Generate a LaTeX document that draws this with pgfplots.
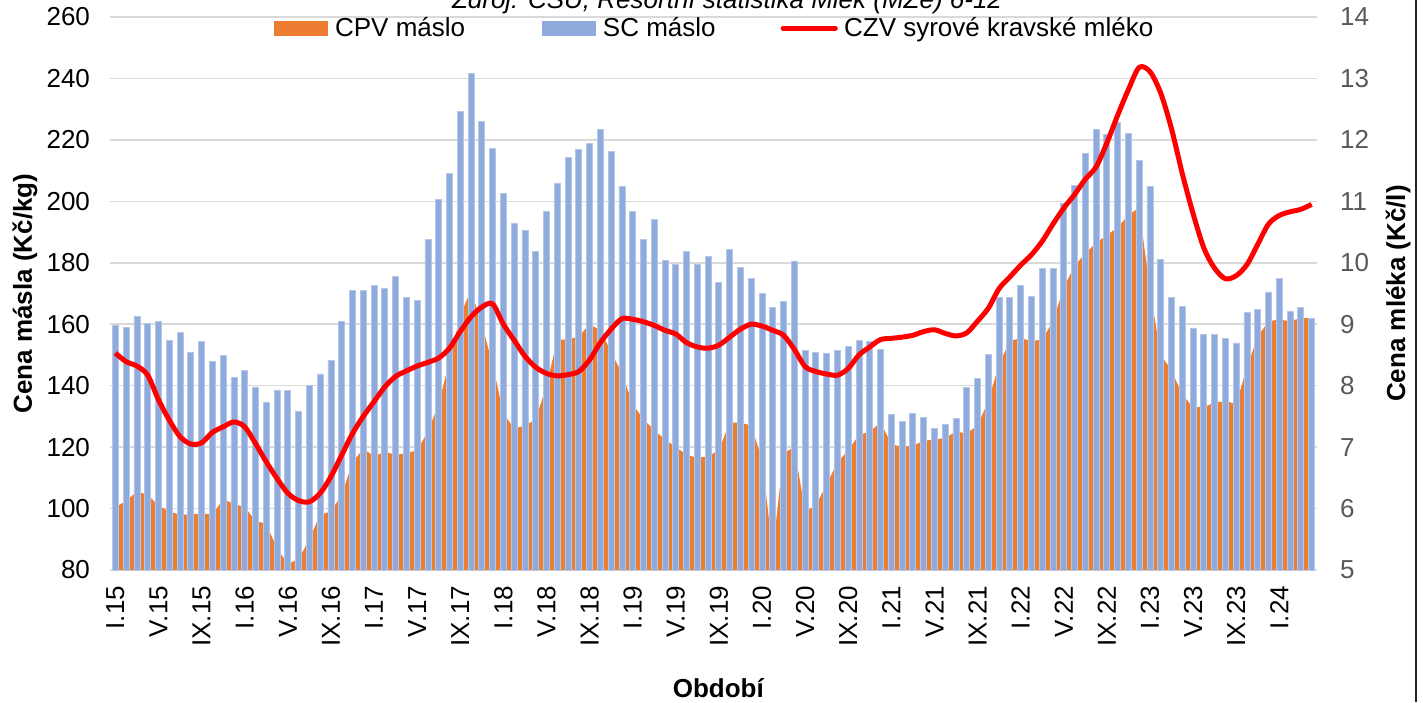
\documentclass[border=0pt]{standalone}
\usepackage{fontspec}
\setmainfont{Liberation Sans}
\usepackage{pgfplots}
\usepackage{pgfplotstable}
\pgfplotsset{compat=1.18}

\definecolor{cpv}{HTML}{ED7D31}
\definecolor{scfill}{HTML}{8FAADC}
\definecolor{scedge}{HTML}{B4C7E7}
\definecolor{gridc}{HTML}{D9D9D9}
\definecolor{rtick}{HTML}{595959}

% i = month index from I.15; sc = SC máslo, cpv = CPV máslo (Kč/kg); czv = CZV mléko (Kč/l)
\pgfplotstableread{
i sc cpv czv
0 159.7 100.5 8.53
1 158.9 102.5 8.39
2 162.6 105.5 8.32
3 160.3 104.5 8.17
4 160.8 101 7.77
5 154.6 99 7.44
6 157.2 98 7.17
7 150.8 98 7.05
8 154.5 98.5 7.07
9 148.0 98 7.24
10 149.7 103 7.33
11 142.6 101.5 7.41
12 145.0 100.5 7.33
13 139.6 96 7.06
14 134.7 95 6.76
15 138.6 87 6.49
16 138.4 82 6.25
17 131.6 83.5 6.13
18 140.0 90 6.11
19 143.8 98 6.25
20 148.2 99 6.52
21 160.9 104.5 6.87
22 171.0 115 7.22
23 171.0 119.5 7.50
24 172.5 117 7.74
25 171.6 118.5 7.98
26 175.6 117.5 8.15
27 168.7 118 8.24
28 167.6 119 8.32
29 187.5 125 8.38
30 200.6 134 8.45
31 209.1 148 8.61
32 229.4 163 8.88
33 241.7 171 9.12
34 226.0 160 9.28
35 217.3 147 9.33
36 202.7 131 9.00
37 192.7 126 8.74
38 190.6 127 8.48
39 183.8 129 8.30
40 196.8 140 8.20
41 206.0 155 8.16
42 214.3 155 8.18
43 216.8 156 8.23
44 218.7 160 8.42
45 223.3 158 8.70
46 216.2 151 8.92
47 204.8 144 9.09
48 196.8 134 9.08
49 187.6 129 9.04
50 194.0 125.5 8.98
51 180.8 122.5 8.90
52 179.6 120 8.84
53 183.8 117.5 8.70
54 179.6 116.5 8.63
55 182.1 117 8.61
56 173.6 119 8.66
57 184.4 128 8.79
58 178.6 128 8.92
59 174.9 127 9.00
60 170.1 116 8.97
61 165.5 86 8.90
62 167.5 118 8.82
63 180.6 120 8.59
64 151.4 99 8.31
65 150.8 101 8.23
66 150.6 108 8.19
67 151.4 115 8.17
68 152.9 119 8.28
69 154.7 124 8.50
70 154.5 125 8.63
71 151.9 128 8.75
72 130.6 121 8.77
73 128.4 120 8.79
74 131.0 120.5 8.82
75 129.7 122 8.88
76 126.0 122.5 8.91
77 127.3 123 8.85
78 129.3 125 8.81
79 139.5 124.5 8.86
80 142.3 127 9.05
81 150.1 135 9.26
82 168.8 147 9.58
83 168.6 154.5 9.77
84 172.5 155.5 9.96
85 169.0 154.5 10.13
86 178.3 155 10.35
87 178.3 161 10.63
88 199.4 172 10.89
89 205.2 179 11.11
90 215.7 183 11.36
91 223.5 186.5 11.56
92 221.8 189 11.95
93 225.8 191.5 12.40
94 222.1 195.5 12.82
95 213.3 198 13.18
96 204.7 171 13.11
97 181.0 150 12.76
98 168.6 145 12.18
99 165.9 137 11.45
100 158.8 133 10.80
101 156.6 133 10.24
102 156.6 134.5 9.91
103 155.3 135 9.74
104 153.9 134 9.79
105 163.8 146 9.97
106 164.8 156 10.30
107 170.5 161 10.63
108 175.0 161.5 10.77
109 164.2 161 10.83
110 165.6 162 10.87
111 162.0 162 10.95
}\milk

\newcommand{\chfont}{\fontsize{13}{15.6}\selectfont}

\begin{document}
\begin{tikzpicture}[font=\chfont]
\path[use as bounding box] (-55pt,-66pt) rectangle (656.5pt,285pt);

\begin{axis}[
    scale only axis, width=603.5pt, height=276.5pt,
    xmin=-0.5, xmax=111.5, ymin=80, ymax=260,
    ytick distance=20,
    xtick={0,4,...,108},
    xticklabels={I.15,V.15,IX.15,I.16,V.16,IX.16,I.17,V.17,IX.17,I.18,V.18,IX.18,I.19,V.19,IX.19,I.20,V.20,IX.20,I.21,V.21,IX.21,I.22,V.22,IX.22,I.23,V.23,IX.23,I.24},
    xticklabel style={rotate=90, anchor=east},
    ymajorgrids, grid style={gridc, line width=0.75pt},
    axis x line*=bottom, axis y line*=left,
    x axis line style={gridc, line width=0.75pt},
    y axis line style={draw=none},
    major tick length=0pt, tick style={draw=none},
    xticklabel shift=4.5pt, yticklabel shift=6.5pt,
    /pgf/number format/assume math mode=true,
    ticklabel style={font=\chfont},
    xlabel={Období}, ylabel={Cena másla (Kč/kg)},
    every axis x label/.style={at={(axis description cs:0.504,-0.2134)}, anchor=center, font=\bfseries\chfont},
    every axis y label/.style={at={(axis description cs:-0.0704,0.5)}, rotate=90, anchor=center, font=\bfseries\chfont},
]
\addplot[fill=cpv, draw=none] table[x=i, y=cpv] {\milk} \closedcycle;
\addplot[ybar, bar width=3pt, fill=scfill, draw=scedge, line width=0.4pt] table[x=i, y=sc] {\milk};
\end{axis}

\begin{axis}[
    scale only axis, width=603.5pt, height=276.5pt,
    xmin=-0.5, xmax=111.5, ymin=5, ymax=14,
    ytick distance=1,
    axis x line=none, axis y line*=right,
    y axis line style={draw=none},
    major tick length=0pt, tick style={draw=none},
    yticklabel shift=8pt,
    /pgf/number format/assume math mode=true,
    yticklabel style={font=\chfont, text=rtick},
    ylabel={Cena mléka (Kč/l)},
    every axis y label/.style={at={(axis description cs:1.0671,0.5)}, rotate=90, anchor=center, font=\bfseries\chfont},
    legend columns=3,
    legend style={draw=none, fill=none, at={(axis description cs:0.5015,0.980)}, anchor=center,
        font=\chfont, inner sep=0pt, nodes={inner sep=1.5pt},
        /tikz/column 2/.style={column sep=37pt},
        /tikz/column 4/.style={column sep=31pt}},
]
\addlegendimage{legend image code/.code={\fill[cpv] (0pt,-3.5pt) rectangle (26.5pt,3.5pt); \path (28.5pt,0pt);}}
\addlegendimage{legend image code/.code={\fill[scfill] (0pt,-3.5pt) rectangle (26.5pt,3.5pt); \path (28.5pt,0pt);}}
\addlegendimage{legend image code/.code={\draw[red, line width=2.5pt, line cap=round] (1.2pt,0pt) -- (27.3pt,0pt); \path (30pt,0pt);}}
\addplot[red, line width=2.5pt, smooth, forget plot] table[x=i, y=czv] {\milk};
\legend{CPV máslo, SC máslo, CZV syrové kravské mléko}
\end{axis}

\node[anchor=base, font=\itshape\chfont] at (308.5pt,280.5pt) {Zdroj: ČSÚ, Resortní statistika Mlék (MZe) 6-12};
\draw[line width=0.75pt, black!85] (653pt,-66pt) -- (653pt,285pt);
\end{tikzpicture}
\end{document}
